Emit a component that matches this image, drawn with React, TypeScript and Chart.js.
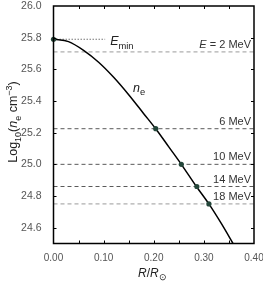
import React, { useEffect, useRef } from 'react';
import { Chart, registerables } from 'chart.js';

Chart.register(...registerables);

// ---- data ----
const radiusValues = [0, 0.03, 0.06, 0.09, 0.12, 0.15, 0.18, 0.205, 0.23, 0.255, 0.285, 0.31, 0.335, 0.36];
const logDensity = [25.79, 25.775, 25.72, 25.645, 25.55, 25.44, 25.32, 25.22, 25.11, 25.0, 24.86, 24.75, 24.625, 24.49];

const markerRadius = [0, 0.204, 0.255, 0.286, 0.31];
const markerDensity = [25.79, 25.225, 25.0, 24.86, 24.75];

const energyNames = ['2 MeV', '6 MeV', '10 MeV', '14 MeV', '18 MeV'];
const energyLevels = [25.71, 25.225, 25.0, 24.86, 24.75];

const eminLevel = 25.79;
const eminReach = 0.103;

const xTickValues = [0, 0.1, 0.2, 0.3, 0.4];
const xMinorTicks = [0.05, 0.1, 0.15, 0.2, 0.25, 0.3, 0.35];
const yTickValues = [24.6, 24.8, 25.0, 25.2, 25.4, 25.6, 25.8, 26.0];

const FAMILY = '"Liberation Sans", Arial, Helvetica, sans-serif';

type Seg = { t: string; italic?: boolean; scale?: number; dy?: number };

function richWidth(ctx: CanvasRenderingContext2D, segs: Seg[], size: number) {
  let w = 0;
  for (const s of segs) {
    ctx.font = `${s.italic ? 'italic ' : ''}${size * (s.scale || 1)}px ${FAMILY}`;
    w += ctx.measureText(s.t).width;
  }
  return w;
}

function drawRich(
  ctx: CanvasRenderingContext2D,
  segs: Seg[],
  x: number,
  y: number,
  size: number,
  color: string,
  align: 'left' | 'right' | 'center' = 'left'
) {
  const total = richWidth(ctx, segs, size);
  let cx = align === 'left' ? x : align === 'right' ? x - total : x - total / 2;
  ctx.fillStyle = color;
  ctx.textAlign = 'left';
  ctx.textBaseline = 'alphabetic';
  for (const s of segs) {
    ctx.font = `${s.italic ? 'italic ' : ''}${size * (s.scale || 1)}px ${FAMILY}`;
    ctx.fillText(s.t, cx, y + (s.dy || 0) * size);
    cx += ctx.measureText(s.t).width;
  }
}

const decorPlugin = {
  id: 'decor',
  afterDraw(chart: any) {
    const ctx: CanvasRenderingContext2D = chart.ctx;
    const { left, right, top, bottom } = chart.chartArea;
    const xs = chart.scales.x;
    const ys = chart.scales.y;
    ctx.save();
    // frame
    ctx.strokeStyle = '#000';
    ctx.lineWidth = 1.5;
    ctx.strokeRect(left, top, right - left, bottom - top);
    // inward ticks
    ctx.lineWidth = 1;
    ctx.beginPath();
    for (const v of xMinorTicks) {
      const px = Math.round(xs.getPixelForValue(v)) + 0.5;
      ctx.moveTo(px, bottom);
      ctx.lineTo(px, bottom - 3);
      ctx.moveTo(px, top);
      ctx.lineTo(px, top + 3);
    }
    for (const v of yTickValues) {
      if (v >= 26) continue;
      const py = Math.round(ys.getPixelForValue(v)) + 0.5;
      ctx.moveTo(left, py);
      ctx.lineTo(left + 3, py);
      ctx.moveTo(right, py);
      ctx.lineTo(right - 3, py);
    }
    ctx.stroke();

    // energy labels
    energyNames.forEach((name, i) => {
      const py = ys.getPixelForValue(energyLevels[i]);
      const segs: Seg[] = i === 0 ? [{ t: 'E', italic: true }, { t: ' = ' + name }] : [{ t: name }];
      drawRich(ctx, segs, right - 3, py - 4, 11, '#333', 'right');
    });

    // E_min label
    const ex = xs.getPixelForValue(eminReach) + 5;
    const ey = ys.getPixelForValue(eminLevel) + 5.5;
    drawRich(ctx, [{ t: 'E', italic: true }, { t: 'min', scale: 0.75, dy: 0.3 }], ex, ey, 12.5, '#222');

    // n_e label
    drawRich(ctx, [{ t: 'n', italic: true }, { t: 'e', scale: 0.75, dy: 0.3 }], 133, 91.5, 12.5, '#222');

    // x title
    drawRich(
      ctx,
      [{ t: 'R', italic: true }, { t: '/' }, { t: 'R', italic: true }, { t: '\u2299', scale: 0.75, dy: 0.3 }],
      138,
      276.5,
      12,
      '#222'
    );

    // y title (rotated)
    ctx.translate(17, 122);
    ctx.rotate(-Math.PI / 2);
    drawRich(
      ctx,
      [
        { t: 'Log' },
        { t: '10', scale: 0.72, dy: 0.3 },
        { t: '(' },
        { t: 'n', italic: true },
        { t: 'e', scale: 0.72, dy: 0.3 },
        { t: ' cm' },
        { t: '\u22123', scale: 0.72, dy: -0.42 },
        { t: ')' },
      ],
      0,
      0,
      12.5,
      '#222',
      'center'
    );
    ctx.restore();
  },
};

export default function App() {
  const ref = useRef<HTMLCanvasElement | null>(null);

  useEffect(() => {
    if (!ref.current) return;
    const lineSets = energyLevels.map((lvl, i) => ({
      label: energyNames[i],
      data: [
        { x: 0, y: lvl },
        { x: 0.4, y: lvl },
      ],
      showLine: true,
      borderColor: i === 0 || i === 4 ? '#9a9a9a' : '#5a5a5a',
      borderWidth: 1,
      borderDash: [4, 3],
      pointRadius: 0,
    }));
    const chart = new Chart(ref.current, {
      type: 'scatter',
      data: {
        datasets: [
          {
            label: 'markers',
            data: markerRadius.map((r, i) => ({ x: r, y: markerDensity[i] })),
            pointRadius: 2.6,
            pointBackgroundColor: '#24463a',
            pointBorderColor: '#24463a',
            pointBorderWidth: 0,
            showLine: false,
            clip: false,
          } as any,
          {
            label: 'ne',
            data: radiusValues.map((r, i) => ({ x: r, y: logDensity[i] })),
            showLine: true,
            borderColor: '#000',
            borderWidth: 1.5,
            pointRadius: 0,
            cubicInterpolationMode: 'monotone',
          } as any,
          {
            label: 'Emin',
            data: [
              { x: 0, y: eminLevel },
              { x: eminReach, y: eminLevel },
            ],
            showLine: true,
            borderColor: '#777',
            borderWidth: 1,
            borderDash: [1.5, 1.5],
            pointRadius: 0,
          },
          ...lineSets,
        ],
      },
      options: {
        animation: false,
        responsive: false,
        devicePixelRatio: 1,
        layout: { padding: { top: 6, right: 9, left: 0, bottom: 0 } },
        plugins: { legend: { display: false }, tooltip: { enabled: false } },
        events: [],
        scales: {
          x: {
            type: 'linear',
            min: 0,
            max: 0.4,
            afterBuildTicks: (s: any) => {
              s.ticks = xTickValues.map((v) => ({ value: v }));
            },
            afterFit: (s: any) => {
              s.height = 39.5;
              s.paddingLeft = 0;
              s.paddingRight = 0;
            },
            grid: { display: false },
            border: { display: false },
            ticks: {
              callback: (v: any) => Number(v).toFixed(2),
              color: '#555',
              font: { size: 10, family: FAMILY },
              padding: 1,
              maxRotation: 0,
              autoSkip: false,
            },
          },
          y: {
            type: 'linear',
            min: 24.5,
            max: 26.0,
            afterBuildTicks: (s: any) => {
              s.ticks = yTickValues.map((v) => ({ value: v }));
            },
            afterFit: (s: any) => {
              s.width = 53.5;
              s.paddingTop = 0;
              s.paddingBottom = 0;
            },
            grid: { display: false },
            border: { display: false },
            ticks: {
              callback: (v: any) => Number(v).toFixed(1),
              color: '#555',
              font: { size: 10.5, family: FAMILY },
              padding: 4,
              autoSkip: false,
            },
          },
        },
      },
      plugins: [decorPlugin],
    });
    return () => chart.destroy();
  }, []);

  return (
    <div style={{ position: 'absolute', left: 0, top: 0, width: 263, height: 283, background: '#fff' }}>
      <canvas ref={ref} width={263} height={283} />
    </div>
  );
}
